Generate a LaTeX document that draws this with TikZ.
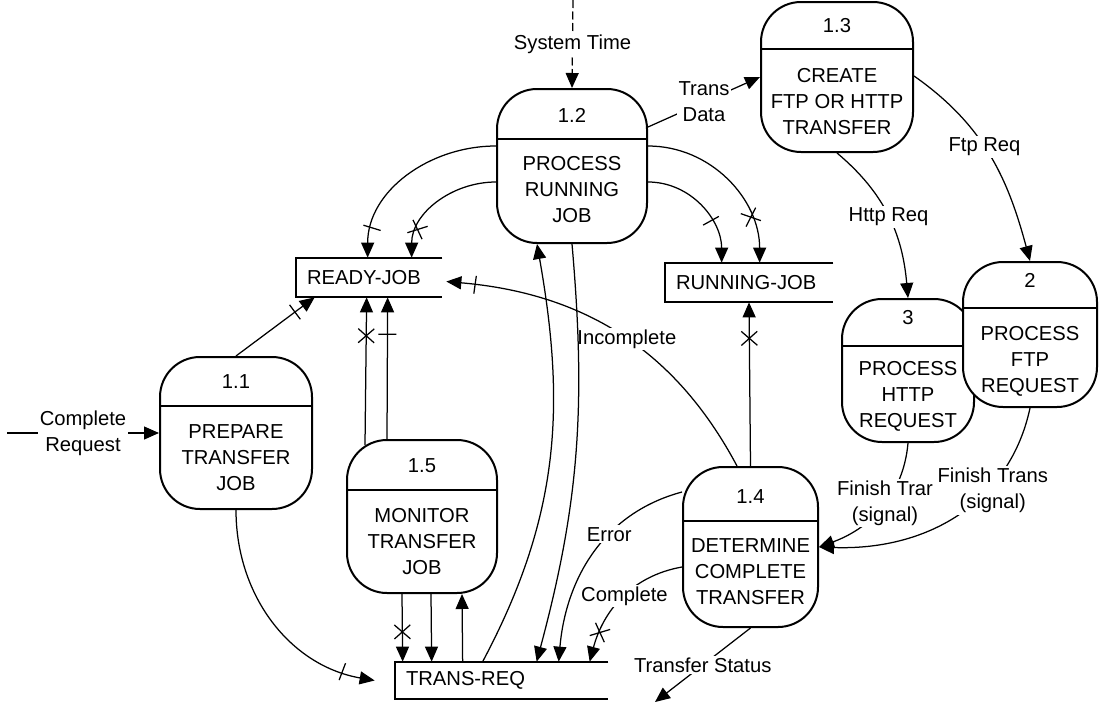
\documentclass[tikz,border=0pt]{standalone}
\usepackage{fontspec}
\setmainfont{Liberation Sans}
\usetikzlibrary{arrows.meta,calc,decorations.markings}
\tikzset{
  proc/.style={draw,line width=0.4mm,fill=white,rounded corners=8mm,align=center,inner sep=0pt,
    path picture={\draw[line width=0.3mm] ([yshift=-#1]path picture bounding box.north west) -- ([yshift=-#1]path picture bounding box.north east);}},
  proc/.default=10mm,
  store/.style={text width=#1,align=left,inner xsep=2.2mm,inner ysep=0pt,minimum height=7.8mm},
  storeline/.style={line width=0.35mm},
  flow/.style={-{Triangle[length=3mm,width=2.6mm]},line width=0.25mm},
  lbl/.style={fill=white,inner sep=1pt,align=center},
  onetick/.style={postaction={decorate,decoration={markings,
    mark=at position #1 with {\draw[-,line width=0.25mm] (0,-1.8mm) -- (0,1.8mm);}}}},
  crosstick/.style={postaction={decorate,decoration={markings,
    mark=at position #1 with {\draw[-,line width=0.25mm] (-1.4mm,-1.6mm) -- (1.4mm,1.6mm) (-1.4mm,1.6mm) -- (1.4mm,-1.6mm);}}}},
}

\begin{document}
\begin{tikzpicture}[x=0.2mm,y=-0.2mm,every node/.style={font=\fontsize{11.5pt}{14.8pt}\selectfont}]
\path[use as bounding box,fill=white] (0,0) rectangle (1104,708);
% processes
\node[proc=9.8mm,minimum width=30.4mm,minimum height=30.4mm] (p11) at (236,433) {1.1\\[13.6pt]PREPARE\\TRANSFER\\JOB};
\node[proc,minimum width=30mm,minimum height=30.8mm] (p12) at (572,166) {1.2\\[12.5pt]PROCESS\\RUNNING\\JOB};
\node[proc=9.4mm,minimum width=30.4mm,minimum height=30mm] (p13) at (837,77) {1.3\\[13.6pt]CREATE\\FTP OR HTTP\\TRANSFER};
\node[proc=10.8mm,minimum width=27mm,minimum height=32mm] (p14) at (750.5,547) {1.4\\[13.1pt]DETERMINE\\COMPLETE\\TRANSFER};
\node[proc,minimum width=30mm,minimum height=30.6mm] (p15) at (422,516.5) {1.5\\[13.6pt]MONITOR\\TRANSFER\\JOB};
\node[proc=9.4mm,minimum width=26.4mm,minimum height=28.6mm] (p3) at (908,370.5) {3\\[14.2pt]PROCESS\\HTTP\\REQUEST};
\node[proc=9.2mm,minimum width=26.8mm,minimum height=29mm] (p2) at (1030,334.5) {2\\[15.4pt]PROCESS\\FTP\\REQUEST};
% data stores
\node[store=24.8mm] (ready) at (369,277.5) {READY-JOB};
\node[store=29.2mm] (running) at (749,282.5) {RUNNING-JOB};
\node[store=38.2mm,minimum height=7.4mm] (transreq) at (501.5,680.5) {TRANS-REQ};
\draw[storeline] (ready.north east) -| (ready.south west) -- (ready.south east);
\draw[storeline] (running.north east) -| (running.south west) -- (running.south east);
\draw[storeline] (transreq.north east) -| (transreq.south west) -- (transreq.south east);
% free ends
\coordinate (creq) at (7,433);
\coordinate (systime) at (573,0);
\coordinate (tstat) at (655,702);
% flows
\draw[flow,dash pattern=on 1.6mm off 0.7mm] (systime) -- node[lbl]{System Time} (p12.north);
\draw[flow] (creq) -- node[lbl]{Complete\\Request} (p11.west);
\draw[flow,onetick=0.75] (p11.north) -- ($(ready.south west)+(19,0)$);
\draw[flow,onetick=0.84] ($(p12.north west)+(0,58)$) to[out=180,in=90] ($(ready.north west)+(72,0)$);
\draw[flow,crosstick=0.77] ($(p12.north west)+(0,94)$) to[out=180,in=90] ($(ready.north west)+(116,0)$);
\draw[flow,crosstick=0.74] ($(p12.north east)+(0,58)$) to[out=0,in=90] ($(running.north west)+(95,0)$);
\draw[flow,onetick=0.64] ($(p12.north east)+(0,94)$) to[out=0,in=90] ($(running.north west)+(57,0)$);
\draw[flow] ($(p12.north east)+(0,39)$) -- node[lbl]{Trans\\Data} ($(p13.north west)+(0,76)$);
\draw[flow] ($(p13.north east)+(0,75)$) to[out=-35,in=105] node[lbl,pos=0.45]{Ftp Req} (p2.north);
\draw[flow] (p13.south) to[out=-40,in=95] node[lbl]{Http Req} (p3.north);
\draw[flow] (p2.south) to[out=-102,in=-2,out looseness=0.95,in looseness=1.13] node[lbl,pos=0.36,xshift=1.2mm]{Finish Trans\\(signal)} (p14.east);
\draw[flow] (p3.south) to[out=-95,in=20] node[lbl,pos=0.45]{Finish Trar\\(signal)} (p14.east);
\draw[flow,crosstick=0.78] (p14.north) -- (running.south);
\draw[flow,onetick=0.92] ($(p14.north west)+(55,0)$) to[out=118,in=-5] node[lbl,pos=0.47]{Incomplete} ($(ready.east)+(4,4)$);
\draw[flow] ($(p14.north west)+(0,26)$) to[out=195,in=85] node[lbl,pos=0.38]{Error} ($(transreq.north west)+(164,0)$);
\draw[flow,crosstick=0.78] ($(p14.north west)+(0,101)$) to[out=190,in=75] node[lbl,pos=0.47]{Complete} ($(transreq.north west)+(195,0)$);
\draw[flow] (p14.south) -- node[lbl]{Transfer Status} (tstat);
\draw[flow] ($(p12.south west)+(76,0)$) to[out=-85,in=75] ($(transreq.north west)+(142,0)$);
\draw[flow] ($(transreq.north west)+(88,0)$) to[out=62,in=-80] ($(p12.south west)+(41,0)$);
\draw[flow,crosstick=0.56] ($(p15.south west)+(56,0)$) -- ($(transreq.north west)+(8,0)$);
\draw[flow] ($(p15.south west)+(85,0)$) -- ($(transreq.north west)+(37,0)$);
\draw[flow] ($(transreq.north west)+(68,0)$) -- ($(p15.south west)+(116,0)$);
\draw[flow,crosstick=0.74] ($(p15.north west)+(19,6)$) -- ($(ready.south west)+(71,0)$);
\draw[flow,onetick=0.74] ($(p15.north west)+(41,0)$) -- ($(ready.south west)+(92,0)$);
\draw[flow,onetick=0.86] (p11.south) to[out=-90,in=170] ($(transreq.west)+(-20,0)$);
\end{tikzpicture}
\end{document}
